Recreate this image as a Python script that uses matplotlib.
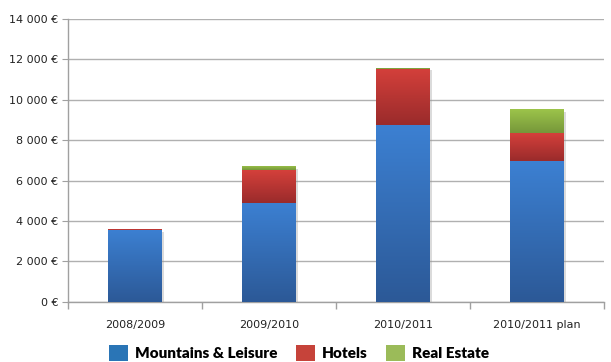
import numpy as np
import matplotlib
matplotlib.use("Agg")
import matplotlib.pyplot as plt
from matplotlib.colors import LinearSegmentedColormap
from matplotlib.patches import Patch
import matplotlib.patheffects as pe

categories = ["2008/2009", "2009/2010", "2010/2011", "2010/2011 plan"]
mountains = [3580, 4900, 8750, 6970]
hotels = [30, 1600, 2780, 1360]
real_estate = [0, 230, 60, 1220]

series_names = ["Mountains & Leisure", "Hotels", "Real Estate"]
# (top colour, bottom colour) of each gradient, and legend colour
grad_colors = [("#3c80d2", "#2c5997"), ("#d4403b", "#9a2b2b"), ("#9ec64b", "#76973a")]
legend_colors = ["#2a75b6", "#c6433a", "#9bbb59"]

yticks = [0, 2000, 4000, 6000, 8000, 10000, 12000, 14000]


def euro(v):
    return f"{v:,}".replace(",", " ") + " €"


fig = plt.figure(figsize=(6.11, 3.62), dpi=100)
ax = fig.add_axes([0.111, 0.166, 0.877, 0.782])

x = np.arange(len(categories))
width = 0.4
bottom = np.zeros(len(categories))
grad = np.linspace(1, 0, 100).reshape(-1, 1)

for vals, (c_top, c_bot) in zip([mountains, hotels, real_estate], grad_colors):
    cmap = LinearSegmentedColormap.from_list("g", [c_bot, c_top])
    bars = ax.bar(x, vals, width, bottom=bottom, color=c_bot, zorder=2,
                  path_effects=[pe.SimplePatchShadow(offset=(2, -2), shadow_rgbFace="#999999", alpha=0.35),
                                pe.Normal()])
    for b in bars:
        if b.get_height() <= 0:
            continue
        x0, y0 = b.get_x(), b.get_y()
        im = ax.imshow(grad, extent=[x0, x0 + b.get_width(), y0, y0 + b.get_height()],
                       aspect="auto", cmap=cmap, vmin=0, vmax=1, zorder=3,
                       interpolation="bilinear")
        im.set_clip_path(b)
    bottom += np.array(vals)

ax.set_xlim(-0.5, len(categories) - 0.5)
ax.set_ylim(0, 14000)
ax.set_yticks(yticks)
ax.set_yticklabels([euro(v) for v in yticks])
ax.set_xticks(x)
ax.set_xticklabels(categories)
ax.set_xticks(np.arange(-0.5, len(categories), 1.0), minor=True)
ax.tick_params(axis="x", which="major", length=0, pad=13, labelsize=8, labelcolor="#222222")
ax.tick_params(axis="x", which="minor", length=5, color="#a0a0a0", width=1)
ax.tick_params(axis="y", length=4, color="#a0a0a0", labelsize=8, labelcolor="#222222", pad=3)

ax.grid(axis="y", color="#b0b0b0", linewidth=1, zorder=0)
ax.set_axisbelow(True)
for s in ["top", "right"]:
    ax.spines[s].set_visible(False)
for s in ["left", "bottom"]:
    ax.spines[s].set_color("#a0a0a0")
    ax.spines[s].set_linewidth(1)

handles = [Patch(facecolor=c, edgecolor="none", label=n) for c, n in zip(legend_colors, series_names)]
fig.legend(handles=handles, loc="lower center", bbox_to_anchor=(0.49, -0.035), ncol=3,
           frameon=False, handlelength=1.2, handleheight=1.2, handletextpad=0.5,
           columnspacing=1.2, prop={"family": "Lato", "weight": "heavy", "size": 11})

fig.savefig("out.png", dpi=100)
